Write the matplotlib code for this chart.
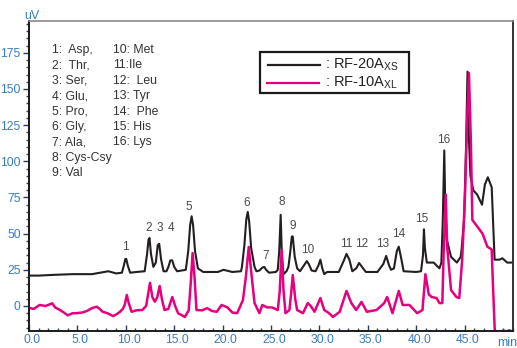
import numpy as np
import matplotlib.pyplot as plt
from matplotlib.lines import Line2D
from matplotlib.patches import Rectangle
from matplotlib.ticker import MultipleLocator
import matplotlib.transforms as mtransforms

plt.rcParams['font.family'] = ['Liberation Sans', 'DejaVu Sans']
plt.rcParams['mathtext.fontset'] = 'custom'
plt.rcParams['mathtext.rm'] = 'Liberation Sans'

# RF-20Axs trace (retention time in min, signal in uV)
rt_black = [0.0, 1.0, 2.5, 4.5, 6.5, 8.2, 9.0, 9.6, 9.8, 9.95, 10.05, 10.2, 10.45, 11.1,
            11.95, 12.2, 12.35, 12.45, 12.6, 12.85, 13.1, 13.3, 13.45, 13.65, 13.9, 14.2,
            14.4, 14.6, 14.8, 15.0, 15.3, 16.2, 16.45, 16.65, 16.8, 16.95, 17.15, 17.45,
            18.0, 19.5, 20.1, 21.0, 21.9, 22.0, 22.25, 22.45, 22.6, 22.75, 22.95, 23.3,
            23.5, 23.8, 24.1, 24.3, 24.5, 24.8, 25.5, 25.7, 25.85, 26.0, 26.12, 26.3, 26.6,
            26.8, 27.0, 27.15, 27.25, 27.45, 27.7, 28.0, 28.5, 28.7, 28.9, 29.2, 29.6, 29.9,
            30.1, 30.3, 30.5, 30.8, 32.0, 32.5, 32.8, 33.1, 33.4, 33.8, 34.1, 34.4, 34.8,
            36.0, 36.6, 36.9, 37.2, 37.4, 37.7, 38.0, 38.2, 38.45, 38.7, 40.0, 40.5, 40.7,
            40.8, 40.9, 41.1, 41.8, 42.4, 42.6, 42.75, 42.9, 43.0, 43.15, 43.6, 44.2, 44.6,
            44.7, 44.95, 45.15, 45.3, 45.45, 45.6, 45.9, 46.3, 46.8, 47.1, 47.4, 47.8, 48.1,
            48.6, 48.9, 49.4, 50.0]
uv_black = [21, 21, 21.5, 22, 22, 24, 22.5, 23, 28, 32.5, 32.5, 28, 23, 23.5,
            24, 36, 46, 47, 36, 27, 30, 42, 43, 32, 24, 24,
            27, 31.5, 31.5, 27, 24, 25, 38, 56, 62, 56, 38, 26,
            23.5, 23.5, 25, 23.5, 24, 27, 42, 60, 65, 58, 40, 27,
            24, 24.5, 26.5, 27, 25, 23, 23.5, 25, 38, 63, 35, 22, 24,
            27, 38, 48, 48, 34, 26, 24, 29, 31, 29, 24.5, 24, 28,
            32, 26, 22, 23.5, 23.5, 31, 36, 32, 24, 26, 29.7, 27, 23.5,
            23.5, 29, 34.6, 28, 25, 26, 38, 41, 33, 24, 23.5, 24, 35,
            53, 40, 30, 30, 26, 30, 60, 107.5, 70, 46, 34, 30, 34,
            40, 60, 110, 162, 115, 90, 80, 77, 70, 84, 89, 82, 32,
            32, 33, 30, 30]

# RF-10Axl trace
rt_pink = [0.0, 0.5, 1.1, 1.7, 2.4, 2.7, 3.2, 3.6, 4.0, 4.5, 4.9, 5.5, 6.0, 6.5, 7.0,
           7.3, 7.6, 8.1, 8.7, 9.1, 9.4, 9.7, 9.9, 10.1, 10.3, 10.6, 11.1, 11.7, 12.1,
           12.3, 12.5, 12.75, 13.0, 13.25, 13.5, 13.75, 14.0, 14.4, 14.8, 15.1, 15.4, 16.1,
           16.5, 16.7, 16.9, 17.1, 17.3, 17.9, 18.4, 18.9, 19.4, 19.9, 20.5, 21.0, 21.5,
           22.1, 22.4, 22.7, 22.95, 23.3, 23.8, 24.1, 24.6, 25.1, 25.7, 25.9, 26.1, 26.3,
           26.5, 26.9, 27.1, 27.25, 27.5, 27.7, 28.3, 28.8, 29.1, 29.5, 30.1, 30.5, 31.0,
           31.4, 32.1, 32.8, 33.3, 33.8, 34.35, 34.9, 35.9, 36.7, 37.0, 37.55, 38.2, 38.6,
           39.3, 40.1, 40.65, 40.95, 41.3, 41.6, 42.1, 42.4, 42.7, 42.85, 43.05, 43.2,
           43.6, 44.15, 44.45, 44.75, 45.05, 45.25, 45.45, 45.65, 45.8, 46.3, 46.85, 47.35,
           47.8, 47.9, 48.1, 48.3, 49.0, 49.3, 49.6, 50.0]
uv_pink = [-1.4, -2, 0.7, 0, 1.8, -1, -2.8, -4.5, -6.5, -5, -5, -4.5, -3.4, -1.5, -0.5,
           -2, -4, -5, -7, -5.5, -4, -2, 1, 7.6, 2, -4, -3, -2.8, 0,
           8, 16, 6, 3, 6, 13.8, 4, -2.8, -2, 6.2, 0, -5, -7.6,
           -3, 15, 36.6, 20, -2.8, -3, -1.5, -3.5, -4, 0.7, -1, -4.5, -5,
           4, 20, 40.8, 24, 2, -5, 0.7, -1, -1, -2.8, 10, 38.7, 10,
           -5, -2.8, 10, 21.4, 5, -2.8, -5, 2, 0, -4, 5.5, -2.8, -5,
           -7.6, -4, 10.4, 2, -2.8, 2.8, -4, -2.8, 2, 6.2, -5, 10.4, 0.7,
           0.7, -5, -2.8, 22, 8, 6.2, 5.5, 2, 2, 40, 77, 41,
           11, 6.2, 5.5, 32, 78, 125, 161, 113, 59.5, 55, 50, 41,
           39, 20, -14.5, -30, -16.8, -18, -16.8, -18]

peak_no = [str(i) for i in range(1, 17)]
peak_rt = [9.93, 12.4, 13.55, 14.7, 16.55, 22.5, 24.4, 26.06, 27.2, 28.75,
           32.8, 34.4, 36.5, 38.2, 40.6, 42.8]
label_uv = [40.8, 54, 54, 54, 68.5, 71.2, 34.6, 72, 55.3, 38.7,
            43, 43, 43, 49.8, 60.2, 114.8]

amino_left = ['1:  Asp,', '2:  Thr,', '3: Ser,', '4: Glu,', '5: Pro,', '6: Gly,',
              '7: Ala,', '8: Cys-Csy', '9: Val']
amino_right = ['10: Met', '11:Ile', '12:  Leu', '13: Tyr', '14:  Phe', '15: His',
               '16: Lys']

W, H = 517, 348
blue = '#3a7cc0'
fig = plt.figure(figsize=(W / 100, H / 100), dpi=100)
ax = fig.add_axes([29 / W, 1 - 331 / H, (513 - 29) / W, (331 - 21) / H])

ax.plot(rt_black, uv_black, color='#231f20', lw=1.5)
ax.plot(rt_pink, uv_pink, color='#e6007e', lw=1.8)

for n, t, y in zip(peak_no, peak_rt, label_uv):
    ax.text(t, y, n, ha='center', va='center', fontsize=8.5, color='#4a4a4a')

ax.set_xlim(0, 50)
ax.set_ylim(-17.3, 197)
ax.set_xticks(np.arange(0, 50, 5))
ax.set_xticklabels([f'{v:.1f}' for v in np.arange(0, 50, 5)])
ax.set_yticks(np.arange(0, 200, 25))
ax.xaxis.set_minor_locator(MultipleLocator(1))
ax.yaxis.set_minor_locator(MultipleLocator(5))
ax.tick_params(axis='x', which='both', direction='in', colors='#2a3f5f',
               labelcolor=blue, labelsize=8.8, pad=2)
ax.tick_params(axis='x', which='major', length=4, width=1)
ax.tick_params(axis='x', which='minor', length=2.5, width=1)
ax.tick_params(axis='y', which='both', direction='out', colors='#2a3f5f',
               labelcolor=blue, labelsize=8.8, pad=2)
ax.tick_params(axis='y', which='major', length=4, width=1)
ax.tick_params(axis='y', which='minor', length=2.5, width=1)

shift = mtransforms.ScaledTranslation(3 / 100, 0, fig.dpi_scale_trans)
for lab in ax.get_xticklabels():
    lab.set_transform(lab.get_transform() + shift)

for side in ['left', 'bottom']:
    ax.spines[side].set_linewidth(1.4)
    ax.spines[side].set_color('#1a1a1a')
ax.spines['top'].set_color('#8a8a8a')
ax.spines['top'].set_linewidth(1.2)
ax.spines['right'].set_color('#333333')
ax.spines['right'].set_linewidth(1.4)

# axis units
fig.text(32 / W, 1 - 16 / H, 'uV', color=blue, fontsize=9, ha='center', va='center')
fig.text(497 / W, 1 - 343 / H, 'min', color=blue, fontsize=9, ha='left', va='center')

# amino acid key
rows = [50, 65.4, 80.8, 96.2, 111.6, 127, 142.4, 157.8, 173.2]
for txt, r in zip(amino_left, rows):
    fig.text(52 / W, 1 - r / H, txt, fontsize=8.8, color='#333333', va='center')
for txt, r in zip(amino_right, rows):
    fig.text(113 / W, 1 - r / H, txt, fontsize=8.8, color='#333333', va='center')

# legend box
fig.patches.append(Rectangle((260 / W, 1 - 93 / H), (409 - 260) / W, (93 - 52) / H,
                             transform=fig.transFigure, fill=False, ec='#1a1a1a', lw=1.6))
fig.lines.append(Line2D([268 / W, 320 / W], [1 - 65 / H] * 2, transform=fig.transFigure,
                        color='#231f20', lw=1.6))
fig.lines.append(Line2D([267 / W, 319 / W], [1 - 83 / H] * 2, transform=fig.transFigure,
                        color='#e6007e', lw=1.6))
fig.text(325 / W, 1 - 65 / H, r': RF-20A$_{\mathrm{XS}}$', fontsize=10.5, color='#222222',
         va='center')
fig.text(325 / W, 1 - 83 / H, r': RF-10A$_{\mathrm{XL}}$', fontsize=10.5, color='#222222',
         va='center')

fig.savefig('out.png', dpi=100)
